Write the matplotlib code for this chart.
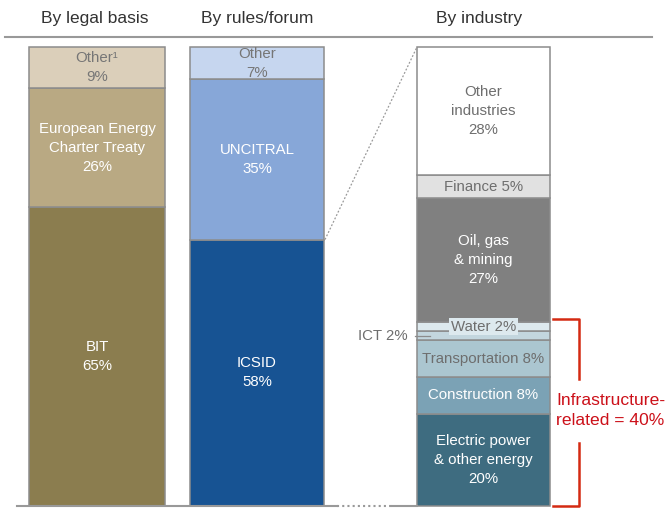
import matplotlib.pyplot as plt

# datos
legal_labels = ['BIT\n65%', 'European Energy\nCharter Treaty\n26%', 'Other¹\n9%']
legal_values = [65, 26, 9]
legal_colors = ['#8b7d4f', '#b9a983', '#dbcfba']
legal_text = ['white', 'white', '#767676']

forum_labels = ['ICSID\n58%', 'UNCITRAL\n35%', 'Other\n7%']
forum_values = [58, 35, 7]
forum_colors = ['#175393', '#87a7d8', '#c6d6ef']
forum_text = ['white', 'white', '#767676']

industry_labels = ['Electric power\n& other energy\n20%', 'Construction 8%', 'Transportation 8%',
                   '', 'Water 2%', 'Oil, gas\n& mining\n27%', 'Finance 5%',
                   'Other\nindustries\n28%']
industry_values = [20, 8, 8, 2, 2, 27, 5, 28]
industry_colors = ['#3e6c80', '#7ba2b5', '#abc6d0', '#c3d6de', '#dde9ee', '#808080',
                   '#e1e1e1', '#ffffff']
industry_text = ['white', 'white', '#6e6e6e', '#6e6e6e', '#6e6e6e', 'white', '#6e6e6e', '#6e6e6e']

titles = ['By legal basis', 'By rules/forum', 'By industry']

plt.rcParams['font.family'] = ['Liberation Sans', 'DejaVu Sans']

fig = plt.figure(figsize=(6.7, 5.08), dpi=100)
ax = fig.add_axes([0, 0.0049, 1, 0.9026])
ax.set_xlim(0, 670)
ax.set_ylim(0, 100)
ax.axis('off')

edge = '#8c8c8c'
columnas = [(97, 136, legal_values, legal_colors, legal_labels, legal_text),
            (257, 134, forum_values, forum_colors, forum_labels, forum_text),
            (483.5, 133, industry_values, industry_colors, industry_labels, industry_text)]

for xc, w, vals, cols, labs, tcols in columnas:
    bottom = 0
    for v, c, lab, tc in zip(vals, cols, labs, tcols):
        ax.bar(xc, v, bottom=bottom, width=w, color=c, edgecolor=edge, linewidth=1.1,
               clip_on=False)
        ymid = bottom + v / 2
        if lab in ('Water 2%', 'Transportation 8%'):
            ax.text(xc, ymid, lab, ha='center', va='center', fontsize=10.8, color=tc,
                    bbox=dict(boxstyle='square,pad=0.12', fc=c, ec='none'))
        elif lab:
            ax.text(xc, ymid, lab, ha='center', va='center', fontsize=10.8, color=tc,
                    linespacing=1.45)
        bottom += v

# etiqueta ICT
ict_mid = sum(industry_values[:3]) + industry_values[3] / 2
ax.text(408, ict_mid, 'ICT 2%', ha='right', va='center', fontsize=10.8, color='#6e6e6e')
ax.plot([415, 430], [ict_mid, ict_mid], color='#8c8c8c', lw=0.9)

# titulos y linea superior
for xt, t in zip([95, 257, 479], titles):
    ax.text(xt, 106.3, t, ha='center', va='center', fontsize=12.5, color='#333333',
            clip_on=False)
ax.plot([5, 652], [102.2, 102.2], color='#999999', lw=1.5, clip_on=False)

# linea base
ax.plot([17, 337], [0, 0], color='#999999', lw=1.5, clip_on=False)
ax.plot([337, 392], [0, 0], color='#999999', lw=1.5, ls=(0, (1, 1.5)), clip_on=False)
ax.plot([392, 417], [0, 0], color='#999999', lw=1.5, clip_on=False)

# linea punteada
ax.plot([325, 417], [forum_values[0], 100], color='#999999', lw=0.9, ls=(0, (1.5, 1.5)))

# corchete rojo
infra = sum(industry_values[:5])
rojo = '#d42a12'
ax.plot([553, 579, 579], [infra + 0.6, infra + 0.6, 27.5], color=rojo, lw=1.8, clip_on=False)
ax.plot([579, 579, 553], [13.7, 0, 0], color=rojo, lw=1.8, clip_on=False)
ax.text(556, 20.8, 'Infrastructure-\nrelated = 40%', ha='left', va='center',
        fontsize=12.6, color='#cc1019', linespacing=1.4)

plt.savefig('out.png', dpi=100)
